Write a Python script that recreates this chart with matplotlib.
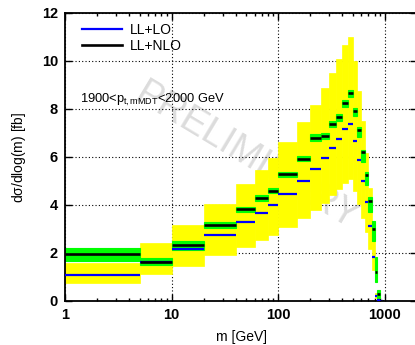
import numpy as np
import matplotlib
matplotlib.use('Agg')
import matplotlib.pyplot as plt
from matplotlib.ticker import LogLocator, NullFormatter, FixedLocator
from matplotlib.lines import Line2D

plt.rcParams['font.family'] = ['Liberation Sans', 'DejaVu Sans']
plt.rcParams['mathtext.fontset'] = 'custom'
plt.rcParams['mathtext.rm'] = 'Liberation Sans'
plt.rcParams['mathtext.it'] = 'Liberation Sans'

# bin edges in m [GeV]
edges = [1, 5, 10, 20, 40, 60, 80, 100, 150, 200, 250, 300, 350, 400, 450,
         500, 550, 600, 650, 700, 750, 800, 850, 900, 950]

# LL+LO central value and band (yellow)
lo = [1.07, 1.63, 2.15, 2.75, 3.29, 3.68, 4.01, 4.46, 5.01, 5.50, 5.94, 6.37,
      6.76, 7.15, 7.36, 6.68, 5.87, 5.01, 4.14, 3.14, 1.85, 0.22, 0.03, 0.01]
lo_up = [1.58, 2.43, 3.17, 4.05, 4.88, 5.46, 5.97, 6.64, 7.47, 8.17, 8.86, 9.49,
         10.07, 10.67, 11.0, 10.0, 8.77, 7.48, 6.17, 4.69, 2.76, 0.33, 0.05, 0.02]
lo_dn = [0.74, 1.11, 1.47, 1.90, 2.26, 2.54, 2.76, 3.10, 3.45, 3.79, 4.10, 4.40,
         4.66, 4.93, 5.08, 4.60, 4.05, 3.45, 2.86, 2.17, 1.28, 0.14, 0.02, 0.0]

# LL+NLO central value and band (green)
nlo = [1.95, 1.64, 2.33, 3.17, 3.82, 4.30, 4.58, 5.28, 5.93, 6.81, 6.88, 7.37,
       7.65, 8.24, 8.65, 7.92, 7.12, 6.19, 5.25, 4.15, 3.00, 1.22, 0.28, 0.02]
nlo_up = [2.19, 1.78, 2.50, 3.30, 3.93, 4.42, 4.70, 5.39, 6.05, 6.95, 7.00, 7.50,
          7.79, 8.37, 8.78, 8.05, 7.25, 6.30, 5.39, 4.34, 3.32, 1.85, 0.45, 0.04]
nlo_dn = [1.68, 1.50, 2.13, 3.03, 3.70, 4.18, 4.49, 5.17, 5.83, 6.68, 6.74, 7.24,
          7.51, 8.07, 8.49, 7.70, 6.83, 5.80, 4.83, 3.72, 2.50, 0.80, 0.12, 0.0]

edges = np.array(edges, dtype=float)
left = edges[:-1]
width = np.diff(edges)

fig = plt.figure(figsize=(4.15, 3.45), dpi=100)
ax = fig.add_axes([65/415, 44/345, 352/415, 288/345])

ax.bar(left, np.array(lo_up) - np.array(lo_dn), width=width, bottom=lo_dn, align='edge',
       color='#ffff00', edgecolor='#ffff00', linewidth=0.5, zorder=1)
ax.bar(left, np.array(nlo_up) - np.array(nlo_dn), width=width, bottom=nlo_dn, align='edge',
       color='#00ff00', edgecolor='#00ff00', linewidth=0.8, zorder=2)
ax.hlines(lo, left, edges[1:], color='#0000ff', linewidth=1.6, zorder=3)
ax.hlines(nlo, left, edges[1:], color='black', linewidth=1.9, zorder=4)

ax.set_xscale('log')
ax.set_xlim(1, 2000)
ax.set_ylim(0, 12)

ax.xaxis.set_major_locator(FixedLocator([1, 10, 100, 1000]))
ax.set_xticklabels(['1', '10', '100', '1000'])
ax.xaxis.set_minor_locator(LogLocator(base=10, subs=np.arange(2, 10)))
ax.xaxis.set_minor_formatter(NullFormatter())
ax.set_yticks([0, 2, 4, 6, 8, 10, 12])

ax.tick_params(which='both', direction='in', top=True, right=True, width=1.0)
ax.tick_params(which='major', length=5, labelsize=10.5, pad=5)
ax.tick_params(which='minor', length=2.5)
for lab in ax.get_xticklabels() + ax.get_yticklabels():
    lab.set_fontweight('bold')

for sp in ax.spines.values():
    sp.set_linewidth(1.3)

ax.set_axisbelow(True)
ax.grid(True, which='major', linestyle=(0, (1, 2)), color='black', linewidth=0.8)

ax.set_xlabel('m [GeV]', fontsize=10, labelpad=6)
ax.set_ylabel(r'd$\sigma$/dlog(m) [fb]', fontsize=10, labelpad=10)

ax.text(0.515, 0.50, 'PRELIMINARY', transform=ax.transAxes, rotation=-31,
        fontsize=27, color='#dcdcdc', ha='center', va='center', zorder=0.3)

ax.text(0.043, 8.25, r'1900<p$_{\rm t,mMDT}$<2000 GeV', fontsize=9.3,
        transform=ax.get_yaxis_transform(), ha='left', va='baseline', zorder=5)

handles = [Line2D([], [], color='#0000ff', linewidth=1.6),
           Line2D([], [], color='black', linewidth=1.9)]
ax.legend(handles, ['LL+LO', 'LL+NLO'], loc='upper left', bbox_to_anchor=(0.02, 1.0),
          frameon=False, fontsize=10, handlelength=2.9, handletextpad=0.6,
          labelspacing=0.15, borderaxespad=0.3)

fig.savefig('out.png', dpi=100)
